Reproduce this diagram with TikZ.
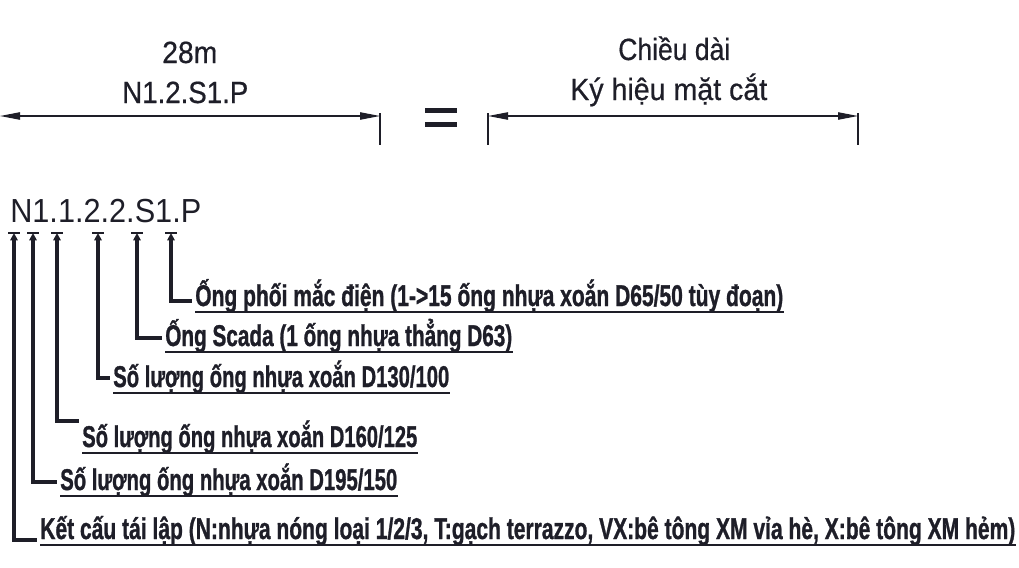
\documentclass[tikz,border=0pt]{standalone}
\usepackage{fontspec}
\setmainfont{Liberation Sans}
\newfontfamily\lblfont[FakeBold=1.2]{Liberation Sans Bold}
\newfontfamily\topfont[FakeBold=0.6]{Liberation Sans}
\usepackage{graphicx}
\usetikzlibrary{arrows.meta,calc}
\definecolor{ink}{RGB}{30,30,40}
\newcommand{\fitto}[2]{\resizebox{#1}{\height}{#2}}
\begin{document}
\begin{tikzpicture}[x=0.75pt,y=-0.75pt,
  dimline/.style={draw=ink,line width=0.9pt,{Triangle[length=15pt,width=5.5pt]}-{Triangle[length=15pt,width=5.5pt]}},
  tickline/.style={draw=ink,line width=1.1pt},
  toptext/.style={inner sep=0pt,anchor=base west,text=ink,font=\topfont\fontsize{23}{28}\selectfont},
  codetext/.style={inner sep=0pt,anchor=base west,text=ink,font=\fontsize{25}{30}\selectfont},
  lbl/.style={inner sep=0pt,anchor=base west,text=ink,font=\lblfont\fontsize{22.5}{27}\selectfont},
  leader/.style={draw=ink,line width=2.3pt,{Triangle[length=5.5pt,width=5.5pt]}-},
  tbar/.style={draw=ink,line width=1.8pt},
  uline/.style={draw=ink,line width=1.9pt},
  eqbar/.style={fill=ink}]
\useasboundingbox (0,0) rectangle (1019,567);

% top texts
\node[toptext] (len) at (162,63) {\fitto{41.25pt}{28m}};
\node[toptext] (sec) at (122,103) {\fitto{94.5pt}{N1.2.S1.P}};
\node[toptext] (lenT) at (618,60) {\fitto{84pt}{Chiều dài}};
\node[toptext] (secT) at (570,100) {\fitto{147.75pt}{Ký hiệu mặt cắt}};

% dimension lines
\coordinate (dA) at (0,116);
\coordinate (dB) at (380,116);
\coordinate (dC) at (488,116);
\coordinate (dD) at (858,116);
\draw[dimline] (dA) -- (dB);
\draw[dimline] (dC) -- (dD);
\draw[tickline] (380,113) -- (380,145);
\draw[tickline] (488,113) -- (488,145);
\draw[tickline] (858,113) -- (858,145);

% equal sign
\fill[eqbar] (425,108) rectangle (457,113);
\fill[eqbar] (425,122) rectangle (457,127);

% code
\node[codetext] (code) at (10,222) {\fitto{143.25pt}{N1.1.2.2.S1.P}};

% labels
\node[lbl] (l1) at (195,306) {\fitto{441pt}{Ống phối mắc điện (1->15 ống nhựa xoắn D65/50 tùy đoạn)}};
\node[lbl] (l2) at (165,346) {\fitto{260.25pt}{Ống Scada (1 ống nhựa thẳng D63)}};
\node[lbl] (l3) at (113,387) {\fitto{252pt}{Số lượng ống nhựa xoắn D130/100}};
\node[lbl] (l4) at (82,447) {\fitto{251.25pt}{Số lượng ống nhựa xoắn D160/125}};
\node[lbl] (l5) at (60,490) {\fitto{252.75pt}{Số lượng ống nhựa xoắn D195/150}};
\node[lbl] (l6) at (40,539) {\fitto{731.25pt}{Kết cấu tái lập (N:nhựa nóng loại 1/2/3, T:gạch terrazzo, VX:bê tông XM vỉa hè, X:bê tông XM hẻm)}};

% underlines
\foreach \n in {l1,l2,l3,l4,l5,l6}{
  \draw[uline] ([yshift=-4.5pt]\n.base west) -- ([yshift=-4.5pt]\n.base east);
}

% leader tops and corners
\coordinate (t1) at (171,233); \coordinate (k1) at (171,301);
\coordinate (t2) at (137,233); \coordinate (k2) at (137,338);
\coordinate (t3) at (98,233);  \coordinate (k3) at (98,378);
\coordinate (t4) at (57,233);  \coordinate (k4) at (57,421);
\coordinate (t5) at (33,233);  \coordinate (k5) at (33,482);
\coordinate (t6) at (14,233);  \coordinate (k6) at (14,540);

\foreach \i in {1,...,6}{
  \draw[leader] (t\i) -- (k\i) -- ($(l\i.base west |- k\i)+(-3,0)$);
  \draw[tbar] ($(t\i)+(-6,0)$) -- ($(t\i)+(6,0)$);
}
\end{tikzpicture}
\end{document}
